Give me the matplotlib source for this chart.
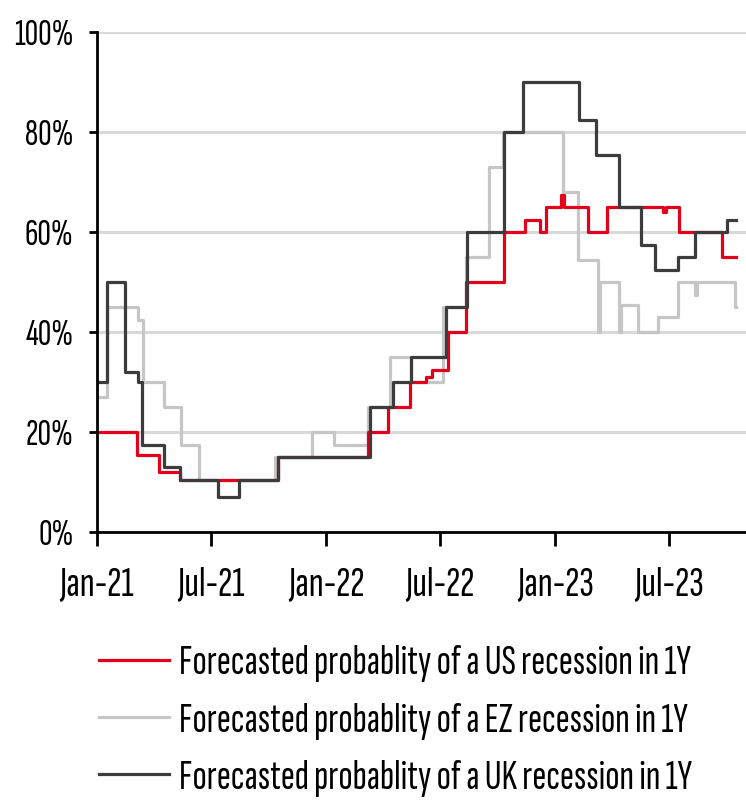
import matplotlib
matplotlib.use('Agg')
import matplotlib.pyplot as plt
import matplotlib.dates as mdates
import pandas as pd
from matplotlib.ticker import FuncFormatter

plt.rcParams['font.family'] = ['Sofia Sans Extra Condensed', 'DejaVu Sans']
FS_Y = 27
FS_X = 31
FS_LEG = 30.3

end_date = '2023-10-16'

us_dates = ['2021-01-01', '2021-03-05', '2021-04-09', '2021-05-14', '2021-10-17',
            '2022-03-09', '2022-04-09', '2022-05-14', '2022-06-09', '2022-06-18',
            '2022-07-15', '2022-08-12', '2022-10-12', '2022-11-14', '2022-12-08',
            '2022-12-17', '2023-01-11', '2023-01-15', '2023-02-22', '2023-03-24',
            '2023-06-21', '2023-06-27', '2023-07-18', '2023-09-23']
us_vals = [20, 15.5, 12, 10.5, 15,
           20, 25, 30, 31, 32.5,
           40, 50, 60, 62.5, 60,
           65, 67.5, 65, 60, 65,
           64, 65, 60, 55]

ez_dates = ['2021-01-01', '2021-01-17', '2021-03-08', '2021-03-15', '2021-04-18',
            '2021-05-15', '2021-06-12', '2021-10-12', '2021-12-09', '2022-01-13',
            '2022-03-09', '2022-04-13', '2022-05-16', '2022-07-07', '2022-08-12',
            '2022-09-17', '2022-10-10', '2023-01-14', '2023-02-07', '2023-03-11',
            '2023-03-13', '2023-04-13', '2023-04-16', '2023-05-13', '2023-06-14',
            '2023-07-15', '2023-08-12', '2023-08-15', '2023-10-14']
ez_vals = [27, 45, 42.5, 30, 25,
           17.5, 10.5, 15, 20, 17.5,
           25, 35, 30, 45, 55,
           73, 80, 68, 54.5, 40,
           50, 40, 45.5, 40, 43,
           50, 47.5, 50, 45]

uk_dates = ['2021-01-01', '2021-01-17', '2021-02-15', '2021-03-08', '2021-03-14',
            '2021-04-18', '2021-05-14', '2021-07-12', '2021-08-16', '2021-10-17',
            '2022-03-12', '2022-04-17', '2022-05-16', '2022-07-11', '2022-08-14',
            '2022-10-12', '2022-11-11', '2023-02-08', '2023-03-07', '2023-04-13',
            '2023-05-17', '2023-06-09', '2023-07-15', '2023-08-12', '2023-10-01']
uk_vals = [30, 50, 32, 30, 17.5,
           13, 10.5, 7, 10.5, 15,
           25, 30, 35, 45, 60,
           80, 90, 82.5, 75.5, 65,
           57.5, 52.5, 55, 60, 62.5]

labels = ['Forecasted probablity of a US recession in 1Y',
          'Forecasted probablity of a EZ recession in 1Y',
          'Forecasted probablity of a UK recession in 1Y']
colors = ['#e2001a', '#c6c6c6', '#3c3c3c']
y_ticks = [0, 20, 40, 60, 80, 100]


def series(dates, vals):
    d = pd.to_datetime(list(dates) + [end_date])
    v = list(vals) + [vals[-1]]
    return d, v


fig = plt.figure(figsize=(7.46, 8.01), dpi=100)
ax = fig.add_axes([97 / 746, 1 - 532 / 801, 1 - 97 / 746, 500 / 801])

lw = 2.3
d, v = series(ez_dates, ez_vals)
l_ez, = ax.step(d, v, where='post', color=colors[1], lw=lw, zorder=3)
d, v = series(us_dates, us_vals)
l_us, = ax.step(d, v, where='post', color=colors[0], lw=lw, zorder=4)
d, v = series(uk_dates, uk_vals)
l_uk, = ax.step(d, v, where='post', color=colors[2], lw=lw, zorder=5)

ax.set_ylim(0, 100)
ax.set_xlim(pd.Timestamp('2021-01-01'), pd.Timestamp('2023-11-01'))
ax.set_yticks(y_ticks)
ax.yaxis.set_major_formatter(FuncFormatter(lambda x, p: f'{x:.0f}%'))
ax.xaxis.set_major_locator(mdates.MonthLocator(bymonth=[1, 7]))
ax.xaxis.set_major_formatter(mdates.DateFormatter('%b-%y'))

ax.grid(axis='y', color='#d9d9d9', lw=2.2, zorder=1)
ax.set_axisbelow(True)
for s in ['top', 'right']:
    ax.spines[s].set_visible(False)
for s in ['left', 'bottom']:
    ax.spines[s].set_color('black')
    ax.spines[s].set_linewidth(2.0)
    ax.spines[s].set_zorder(6)

ax.tick_params(axis='y', direction='out', length=6, width=2, labelsize=FS_Y, pad=11)
ax.tick_params(axis='x', direction='out', length=10, width=2, labelsize=FS_X, pad=15)

fig.legend([l_us, l_ez, l_uk], labels, loc='center left',
           bbox_to_anchor=(99 / 746, 1 - 721 / 801), frameon=False,
           fontsize=FS_LEG, handlelength=1.66, handletextpad=0.24,
           labelspacing=0.47, borderpad=0, borderaxespad=0)

fig.savefig('out.png', dpi=100)
